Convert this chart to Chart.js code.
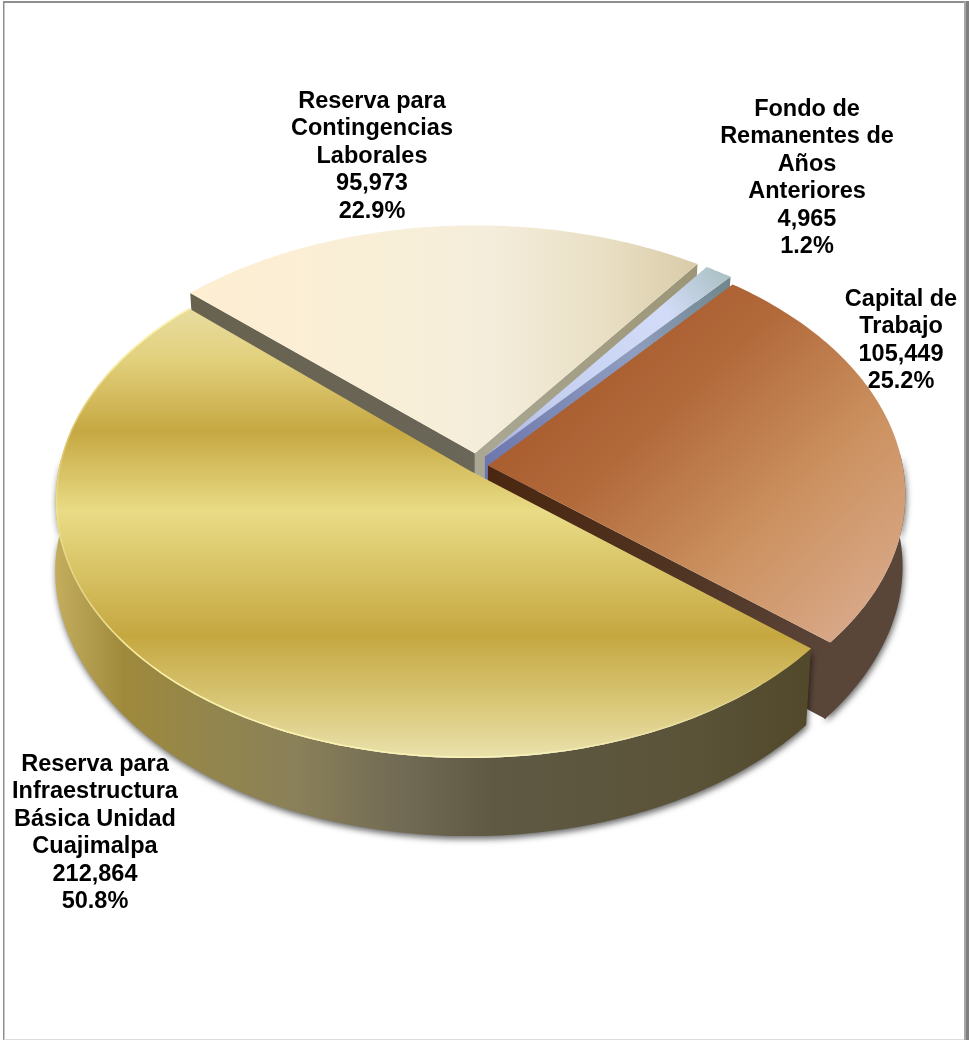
<!DOCTYPE html>
<html><head><meta charset="utf-8">
<style>html,body{margin:0;padding:0;background:#fff}canvas{display:block}</style>
<script src="https://cdn.jsdelivr.net/npm/chart.js@4/dist/chart.umd.js"></script>
</head><body><canvas id="c" width="969" height="1040"></canvas>
<script>
const categories = ["Reserva para Infraestructura Básica Unidad Cuajimalpa","Reserva para Contingencias Laborales","Fondo de Remanentes de Años Anteriores","Capital de Trabajo"];
const values = [212864, 95973, 4965, 105449];
const labelLines = [["Reserva para","Infraestructura","Básica Unidad","Cuajimalpa"],["Reserva para","Contingencias","Laborales"],["Fondo de","Remanentes de","Años","Anteriores"],["Capital de","Trabajo"]];
const labelX = [95, 372, 807, 901];
const labelTop = [764.5, 101.5, 109.5, 299.5];
const explode = [12, 24, 22, 9];
const nudgeX = [-3, -3, -7, 0];
const leftTrim = [9, 0, 0, 0];
const rightTrim = [-7, 0, 0, -5];
const drawOrder = [1, 2, 3, 0];
const flat = ["#d9c460","#f6eeda","#c5d2f0","#b9764a"];

// projection of the pie plane
const CX = 480, CY = 466, RX = 420, RY = 255, PERSP = 0.108, SHRINK = 0.984, DEPTH = 73.7;
function proj(U, V, z, i) {
  const w = 1 - PERSP * V, k = z ? SHRINK : 1;
  let trim = U < 0 ? leftTrim[i] * U * U : rightTrim[i] * U * U;
  if (z) trim *= 1 - 0.75 * Math.pow(U, 6);
  return [CX + nudgeX[i] + trim + k * RX * U / w, CY + k * RY * V / w + (z ? DEPTH / w : 0)];
}
function lg(ctx, x0, y0, x1, y1, stops) {
  const g = ctx.createLinearGradient(x0, y0, x1, y1);
  stops.forEach(s => g.addColorStop(s[0], s[1]));
  return g;
}
const pie3d = {
  id: 'pie3d',
  beforeDraw(chart) {
    const c = chart.ctx; c.save();
    c.fillStyle = '#fff'; c.fillRect(0, 0, 969, 1040);
    c.fillStyle = '#8f8f8f';
    c.fillRect(3, 1, 962, 2); c.fillRect(3, 1, 1.5, 1039);
    c.fillStyle = '#a8a8a8'; c.fillRect(964, 1, 2, 1039);
    c.fillStyle = '#7f7f7f'; c.fillRect(966, 1, 3, 1039);
    c.fillStyle = '#dcdcdc'; c.fillRect(4, 1039, 960, 1);
    c.restore();
  },
  beforeDatasetDraw(chart, args) {
    const c = chart.ctx, arcs = chart.getDatasetMeta(args.index).data;
    const fills = [
      lg(c, 0, 300, 0, 760, [[0,'#e8dfa6'],[.13,'#e2d07c'],[.285,'#c6a842'],[.46,'#e9dc86'],[.73,'#c5a740'],[.87,'#d8c675'],[1,'#ebe3ae']]),
      lg(c, 190, 0, 695, 0, [[0,'#feeed2'],[.42,'#f8efd8'],[.6,'#f4eddb'],[.82,'#e9dfc4'],[1,'#dacca9']]),
      lg(c, 486, 460, 730, 270, [[0,'#a6b0e2'],[.3,'#c6d1f2'],[.75,'#d2dcf8'],[1,'#a8bfc0']]),
      lg(c, 560, 340, 850, 650, [[0,'#a6582b'],[.3,'#b26a3b'],[.65,'#cc9160'],[1,'#d9aa8b']])
    ];
    const walls = [
      lg(c, 55, 0, 811, 0, [[0,'#c4ae5e'],[.09,'#9f893b'],[.2,'#93864c'],[.32,'#8a8059'],[.46,'#716a54'],[.58,'#5f5944'],[.85,'#5a5338'],[1,'#52482a']]),
      '#8f8871','#7a88a8','#5a4539'
    ];
    const cuts = [
      null,
      {start: lg(c,475,460,190,295,[[0,'#6a6658'],[1,'#68624f']]), end: lg(c,475,460,695,265,[[0,'#aaa894'],[1,'#9c9576']])},
      {end: lg(c,486,470,730,275,[[0,'#6c76ac'],[.6,'#8f9dc0'],[1,'#6f868a']])},
      {end: lg(c,490,470,830,645,[[0,'#4a2710'],[.5,'#4f3220'],[1,'#5a4539']])}
    ];
    drawOrder.forEach(i => {
      const a = arcs[i], R = a.outerRadius, off = a.options.offset / R;
      const mid = (a.startAngle + a.endAngle) / 2, du = off * Math.cos(mid), dv = off * Math.sin(mid);
      const n = Math.max(6, Math.ceil((a.endAngle - a.startAngle) * 180 / Math.PI));
      const top = [], bot = [], wTop = [], wBot = [];
      for (let k = 0; k <= n; k++) {
        const t = a.startAngle + (a.endAngle - a.startAngle) * k / n;
        const U = Math.cos(t) + du, V = Math.sin(t) + dv;
        const pT = proj(U, V, 0, i), pB = proj(U, V, 1, i);
        top.push(pT); bot.push(pB);
        if (V > -0.05) { wTop.push(pT); wBot.push(pB); }
      }
      const apexT = proj(du, dv, 0, i), apexB = proj(du, dv, 1, i);
      const poly = pts => { c.beginPath(); pts.forEach((p, j) => j ? c.lineTo(p[0], p[1]) : c.moveTo(p[0], p[1])); c.closePath(); };
      // outer wall
      if (wTop.length > 1) {
        c.save();
        c.shadowColor = 'rgba(0,0,0,.6)'; c.shadowBlur = 6; c.shadowOffsetX = 1; c.shadowOffsetY = 3;
        c.fillStyle = walls[i];
        poly(wTop.concat(wBot.slice().reverse())); c.fill();
        c.restore();
      }
      // radial faces
      const cut = cuts[i];
      if (cut && cut.start) { c.fillStyle = cut.start; poly([apexT, top[0], bot[0], apexB]); c.fill(); }
      if (cut && cut.end) {
        c.fillStyle = cut.end; poly([apexT, top[n], bot[n], apexB]); c.fill();
        if (i === 3) { c.strokeStyle = walls[3]; c.lineWidth = 1.5; c.beginPath(); c.moveTo(top[n][0], top[n][1]); c.lineTo(bot[n][0], bot[n][1]); c.stroke(); }
      }
      // top face
      c.fillStyle = fills[i];
      poly([apexT].concat(top)); c.fill();
      if (i === 0) {
        c.save();
        poly([apexT].concat(top)); c.clip();
        c.strokeStyle = lg(c, 55, 0, 811, 0, [[0,'rgba(255,248,180,.25)'],[.12,'rgba(255,246,170,.95)'],[.6,'rgba(255,248,190,.8)'],[.85,'rgba(255,248,190,.25)'],[1,'rgba(255,248,190,0)']]);
        c.lineWidth = 3;
        c.beginPath(); top.forEach((p, j) => j ? c.lineTo(p[0], p[1]) : c.moveTo(p[0], p[1])); c.stroke();
        c.restore();
      }
    });
    return false;
  },
  afterDraw(chart) {
    const c = chart.ctx, total = values.reduce((s, v) => s + v, 0);
    c.save();
    c.fillStyle = '#000'; c.font = 'bold 23.5px "Liberation Sans", Arial, sans-serif';
    c.textAlign = 'center'; c.textBaseline = 'middle';
    values.forEach((v, i) => {
      const lines = labelLines[i].concat([v.toLocaleString('en-US'), (v / total * 100).toFixed(1) + '%']);
      lines.forEach((t, j) => c.fillText(t, labelX[i], labelTop[i] + j * 27.4));
    });
    c.restore();
  }
};
new Chart(document.getElementById('c'), {
  type: 'pie',
  data: { labels: categories, datasets: [{ data: values, backgroundColor: flat, borderWidth: 0, offset: explode }] },
  options: { responsive: false, animation: false, rotation: 130.2, events: [],
    plugins: { legend: { display: false }, tooltip: { enabled: false } } },
  plugins: [pie3d]
});
</script></body></html>
